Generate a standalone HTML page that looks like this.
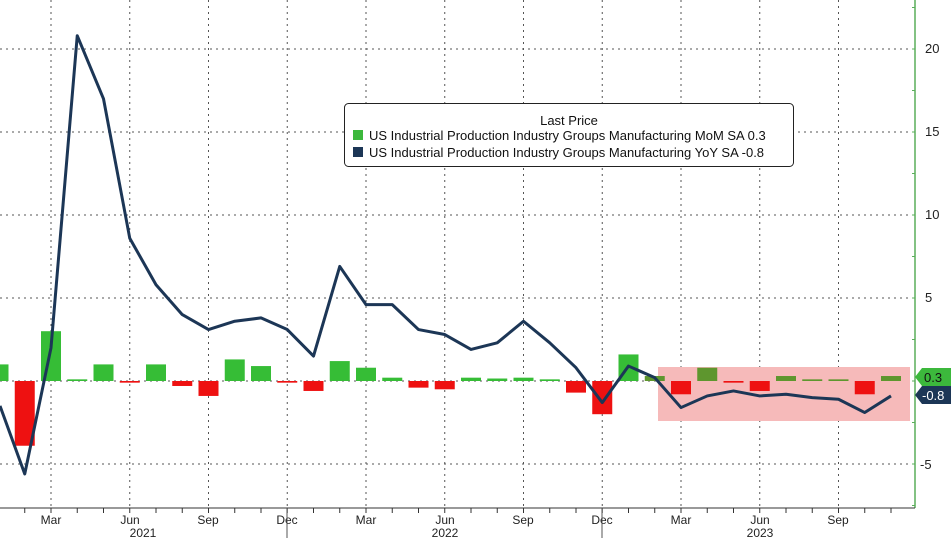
<!DOCTYPE html>
<html><head><meta charset="utf-8"><style>
html,body{margin:0;padding:0;background:#fff;}
svg{display:block;font-family:"Liberation Sans",sans-serif;}
</style></head><body>
<svg id="c" width="951" height="538" viewBox="0 0 951 538" xmlns="http://www.w3.org/2000/svg">
<g id="grid" stroke="#555" stroke-width="1" stroke-dasharray="2,4"></g>
<rect x="658" y="367" width="252" height="54" fill="#f6baba"/>
<g id="bars"></g>
<polyline id="line" fill="none" stroke="#1c3656" stroke-width="3" stroke-linejoin="round"/>
<line x1="915" y1="0" x2="915" y2="508" stroke="#5aad5a" stroke-width="1.5"/>
<line x1="0" y1="508" x2="915" y2="508" stroke="#333" stroke-width="1"/>
<g id="ticks" stroke="#333" stroke-width="1"></g>
<g font-size="13" fill="#222">
<text x="925" y="53">20</text><text x="925" y="136">15</text><text x="925" y="219">10</text><text x="925" y="302">5</text><text x="920" y="469">-5</text>
</g>
<g font-size="12" fill="#222" text-anchor="middle">
<text x="51" y="524">Mar</text><text x="130" y="524">Jun</text><text x="208" y="524">Sep</text><text x="287" y="524">Dec</text>
<text x="366" y="524">Mar</text><text x="445" y="524">Jun</text><text x="523" y="524">Sep</text><text x="602" y="524">Dec</text>
<text x="681" y="524">Mar</text><text x="760" y="524">Jun</text><text x="838" y="524">Sep</text>
<text x="143" y="537">2021</text><text x="445" y="537">2022</text><text x="760" y="537">2023</text>
</g>
<line x1="287" y1="508" x2="287" y2="538" stroke="#555"/>
<line x1="602" y1="508" x2="602" y2="538" stroke="#555"/>
<path d="M915,377 L922,368 L951,368 L951,386 L922,386 Z" fill="#3cb83c"/>
<text x="924" y="382" font-size="13" fill="#111">0.3</text>
<path d="M915,395 L922,386 L951,386 L951,404 L922,404 Z" fill="#1c3656"/>
<text x="922" y="400" font-size="13" fill="#fff">-0.8</text>
<rect x="344.5" y="103.5" width="449" height="63" rx="4" fill="#fff" stroke="#222"/>
<text x="569" y="125" font-size="13" text-anchor="middle" fill="#111">Last Price</text>
<rect x="353" y="130" width="10" height="10" fill="#3cb83c"/>
<text x="369" y="140" font-size="13" fill="#111">US Industrial Production Industry Groups Manufacturing MoM SA 0.3</text>
<rect x="353" y="147" width="10" height="10" fill="#1c3656"/>
<text x="369" y="157" font-size="13" fill="#111">US Industrial Production Industry Groups Manufacturing YoY SA  -0.8</text>
</svg>
<script>
var NS="http://www.w3.org/2000/svg";
function X(m){return 51+26.25*(m-2);}
function Y(v){return 381-16.6*v;}
function el(t,a,p){var e=document.createElementNS(NS,t);for(var k in a)e.setAttribute(k,a[k]);document.getElementById(p).appendChild(e);}
[20,15,10,5,0,-5].forEach(function(v){el('line',{x1:0,x2:915,y1:Y(v),y2:Y(v)},'grid');});
for(var m=2;m<=32;m+=3)el('line',{x1:X(m),x2:X(m),y1:0,y2:508},'grid');
for(var m=0;m<=34;m++)el('line',{x1:X(m),x2:X(m),y1:508,y2:513},'ticks');
for(var v=-7.5;v<=22.5;v+=2.5)el('line',{x1:912,x2:915,y1:Y(v),y2:Y(v),stroke:'#5aad5a'},'ticks');
var mom=[1,-3.9,3,0.1,1,-0.1,1,-0.3,-0.9,1.3,0.9,-0.1,-0.6,1.2,0.8,0.2,-0.4,-0.5,0.2,0.15,0.2,0.1,-0.7,-2,1.6,0.3,-0.8,0.8,-0.1,-0.6,0.3,0.1,0.1,-0.8,0.3];
mom.forEach(function(v,i){var x=X(i)-10,y=v>0?Y(v):381,h=Math.max(Math.abs(v)*16.6,1.5);
var g=i>=25?'#5e962e':'#36bd36';
el('rect',{x:x,y:y,width:20,height:h,fill:v>=0?g:'#ee1111'},'bars');});
var yoy=[-1.5,-5.6,2,20.8,17,8.6,5.8,4,3.1,3.6,3.8,3.1,1.5,6.9,4.6,4.6,3.1,2.8,1.9,2.3,3.6,2.3,0.8,-1.3,0.9,0.2,-1.6,-0.9,-0.6,-0.9,-0.8,-1,-1.1,-1.9,-0.9];
var pts=yoy.map(function(v,i){return X(i)+','+Y(v);});
pts[0]='0,'+Y(-1.5);
document.getElementById('line').setAttribute('points',pts.join(' '));
</script>
</body></html>
